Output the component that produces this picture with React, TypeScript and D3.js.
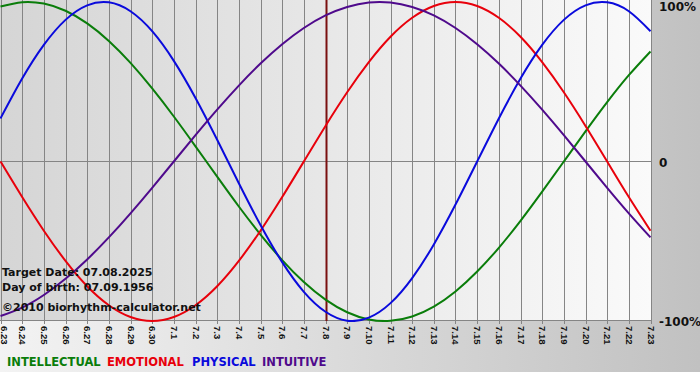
import React from "react";
import * as d3 from "d3";

const dates = ["6.23","6.24","6.25","6.26","6.27","6.28","6.29","6.30","7.1","7.2","7.3","7.4","7.5","7.6","7.7","7.8","7.9","7.10","7.11","7.12","7.13","7.14","7.15","7.16","7.17","7.18","7.19","7.20","7.21","7.22","7.23"];

const intellectual = [0.972,0.999,0.990,0.945,0.866,0.756,0.618,0.458,0.282,0.095,-0.095,-0.282,-0.458,-0.618,-0.756,-0.866,-0.945,-0.990,-0.999,-0.972,-0.910,-0.815,-0.690,-0.541,-0.372,-0.189,0,0.189,0.372,0.541,0.690];
const emotional = [0,-0.223,-0.434,-0.623,-0.782,-0.901,-0.975,-1,-0.975,-0.901,-0.782,-0.623,-0.434,-0.223,0,0.223,0.434,0.623,0.782,0.901,0.975,1,0.975,0.901,0.782,0.623,0.434,0.223,0,-0.223,-0.434];
const physical = [0.270,0.520,0.731,0.888,0.979,0.998,0.942,0.817,0.631,0.398,0.136,-0.136,-0.398,-0.631,-0.817,-0.942,-0.998,-0.979,-0.888,-0.731,-0.520,-0.270,0,0.270,0.520,0.731,0.888,0.979,0.998,0.942,0.817];
const intuitive = [-0.969,-0.916,-0.837,-0.735,-0.614,-0.476,-0.325,-0.165,0,0.165,0.325,0.476,0.614,0.735,0.837,0.916,0.969,0.997,0.997,0.969,0.916,0.837,0.735,0.614,0.476,0.325,0.165,0,-0.165,-0.325,-0.476];

const targetIndex = 15;
const yTicks = [1, 0, -1];
const yTickLabels = ["100%", "0", "-100%"];
const infoLines = ["Target Date: 07.08.2025", "Day of birth: 07.09.1956"];
const copyright = "\u00a92010 biorhythm-calculator.net";

const series = [
  { name: "INTELLECTUAL", values: intellectual, color: "#0a7d0a" },
  { name: "EMOTIONAL", values: emotional, color: "#e8000b" },
  { name: "PHYSICAL", values: physical, color: "#0a0adc" },
  { name: "INTUITIVE", values: intuitive, color: "#4f0a8c" },
];
const legendX = [7, 107, 192, 262];

export default function App() {
  const W = 700, H = 372;
  const plotRight = 651, plotTop = 2, plotBottom = 321;
  const x = d3.scaleLinear().domain([0, dates.length - 1]).range([0.5, 650.5]);
  const y = d3.scaleLinear().domain([-1, 1]).range([plotBottom, plotTop]);
  const line = d3.line<number>().x((_, i) => x(i)).y((d) => y(d)).curve(d3.curveNatural);
  const font = "'DejaVu Sans', Verdana, sans-serif";

  return (
    <svg width={W} height={H} style={{ position: "fixed", left: 0, top: 0, display: "block" }} fontFamily={font}>
      <defs>
        <linearGradient id="bg" x1="0" y1="0" x2="1" y2="0">
          <stop offset="0" stopColor="#f3f3f3" />
          <stop offset="1" stopColor="#c1c1c1" />
        </linearGradient>
        <linearGradient id="plotbg" x1="0" y1="0" x2="1" y2="0">
          <stop offset="0" stopColor="#d5d5d5" />
          <stop offset="1" stopColor="#fafafa" />
        </linearGradient>
        <clipPath id="clip">
          <rect x={0} y={0} width={plotRight + 1} height={plotBottom + 1} />
        </clipPath>
      </defs>
      <rect x={0} y={0} width={W} height={H} fill="url(#bg)" />
      <rect x={0} y={0} width={plotRight} height={plotBottom} fill="url(#plotbg)" />
      {dates.map((d, i) => (
        <line key={"g" + i} x1={Math.round(x(i)) + 0.5} x2={Math.round(x(i)) + 0.5} y1={0} y2={plotBottom + 3} stroke="#858585" strokeWidth={1} />
      ))}
      <line x1={0} x2={plotRight + 1} y1={Math.round(y(0)) - 0.5} y2={Math.round(y(0)) - 0.5} stroke="#858585" />
      <line x1={0} x2={plotRight + 1} y1={plotBottom - 0.5} y2={plotBottom - 0.5} stroke="#858585" />
      <line x1={Math.round(x(targetIndex)) + 0.5} x2={Math.round(x(targetIndex)) + 0.5} y1={0} y2={plotBottom} stroke="#7a1010" strokeWidth={2} />
      <g clipPath="url(#clip)">
        {series.map((s) => (
          <path key={s.name} d={line(s.values) || ""} fill="none" stroke={s.color} strokeWidth={2} />
        ))}
      </g>
      {dates.map((d, i) => (
        <text key={"t" + i} transform={`translate(${Math.max(Math.round(x(i)) + 0.5, 4)},326) rotate(90)`} fontSize={9.5} fontFamily="'Liberation Sans', Arial, sans-serif" fontWeight="bold" dominantBaseline="central" fill="#111">{d}</text>
      ))}
      {yTicks.map((t, i) => (
        <text key={"y" + i} x={659} y={Math.max(y(t), 6) + 5} fontSize={12} fontWeight="bold" fill="#111">{yTickLabels[i]}</text>
      ))}
      {infoLines.map((t, i) => (
        <text key={"i" + i} x={2} y={276 + i * 15} fontSize={11} fontWeight="bold" fill="#111">{t}</text>
      ))}
      <text x={2} y={311} fontSize={11} fontWeight="bold" fill="#111">{copyright}</text>
      {series.map((s, i) => (
        <text key={"l" + i} x={legendX[i]} y={366} fontSize={11.5} fontWeight="bold" fill={s.color}>{s.name}</text>
      ))}
    </svg>
  );
}
